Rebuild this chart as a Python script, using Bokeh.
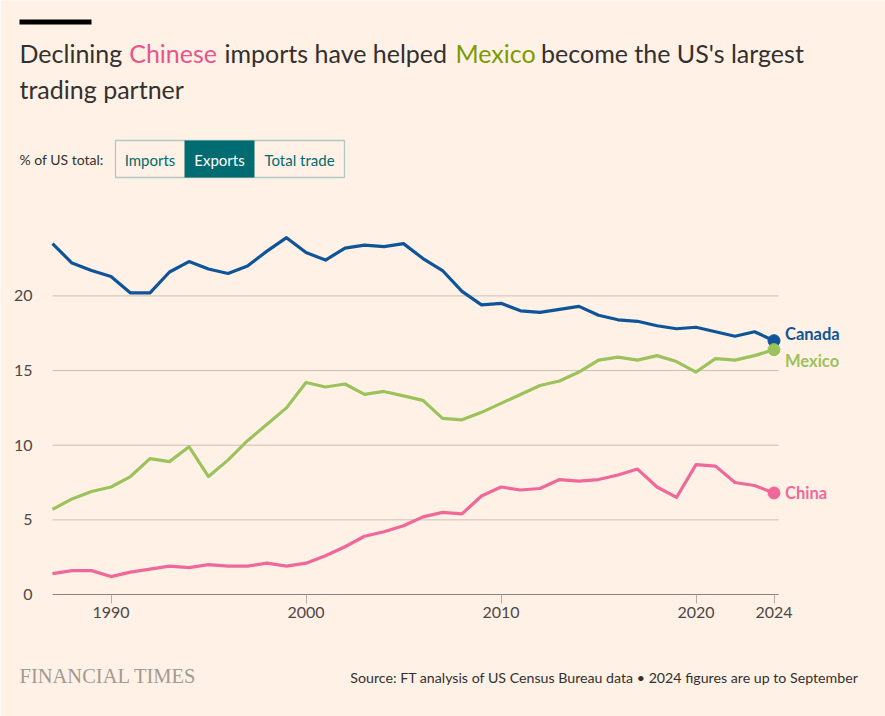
from bokeh.plotting import figure
from bokeh.models import Label, BoxAnnotation, FixedTicker, Range1d
from bokeh.embed import file_html
from bokeh.resources import INLINE

# ---------------- data ----------------
years = list(range(1987, 2025))
canada = [23.5, 22.2, 21.7, 21.3, 20.2, 20.2, 21.6, 22.3, 21.8, 21.5,
          22.0, 23.0, 23.9, 22.9, 22.4, 23.2, 23.4, 23.3, 23.5, 22.5,
          21.7, 20.3, 19.4, 19.5, 19.0, 18.9, 19.1, 19.3, 18.7, 18.4,
          18.3, 18.0, 17.8, 17.9, 17.6, 17.3, 17.6, 17.0]
mexico = [5.7, 6.4, 6.9, 7.2, 7.9, 9.1, 8.9, 9.9, 7.9, 9.0,
          10.3, 11.4, 12.5, 14.2, 13.9, 14.1, 13.4, 13.6, 13.3, 13.0,
          11.8, 11.7, 12.2, 12.8, 13.4, 14.0, 14.3, 14.9, 15.7, 15.9,
          15.7, 16.0, 15.6, 14.9, 15.8, 15.7, 16.0, 16.4]
china = [1.4, 1.6, 1.6, 1.2, 1.5, 1.7, 1.9, 1.8, 2.0, 1.9,
         1.9, 2.1, 1.9, 2.1, 2.6, 3.2, 3.9, 4.2, 4.6, 5.2,
         5.5, 5.4, 6.6, 7.2, 7.0, 7.1, 7.7, 7.6, 7.7, 8.0,
         8.4, 7.2, 6.5, 8.7, 8.6, 7.5, 7.3, 6.8]
x_ticks = [1990, 2000, 2010, 2020, 2024]
y_ticks = [0, 5, 10, 15, 20]
series_names = ["Canada", "Mexico", "China"]
title_parts = ["Declining", "Chinese", "imports have helped", "Mexico",
               "become the US's largest"]
title_line2 = "trading partner"
toggle_label = "% of US total:"
toggle_buttons = ["Imports", "Exports", "Total trade"]
brand = "FINANCIAL TIMES"
source = "Source: FT analysis of US Census Bureau data \u2022 2024 figures are up to September"

# ---------------- layout / style ----------------
W, H = 885, 716
PLOT_L = 52           # pixel column of first year
GRID_R = 778          # right end of gridlines / baseline
ZERO_Y = 594          # pixel row of y = 0
PX_PER_YEAR = 19.5
PX_PER_UNIT = 14.93
X0 = years[0] - PLOT_L / PX_PER_YEAR
X1 = X0 + W / PX_PER_YEAR
Y0 = -(H - ZERO_Y) / PX_PER_UNIT
Y1 = ZERO_Y / PX_PER_UNIT

BG = "#fff1e5"
TXT = "#33302e"
AX_TXT = "#4d4845"
GRID = "#cbbfb4"
BASE = "#8a827c"
C_CAN = "#0f5499"
C_MEX = "#9cc25b"
C_CHN = "#f0689a"
T_CHN = "#e8548b"
T_MEX = "#7d9a00"
TEAL = "#006b70"
FONT = "Lato"


def xd(px):
    return X0 + px / PX_PER_YEAR


def yd(py):
    return (ZERO_Y - py) / PX_PER_UNIT


p = figure(width=W, height=H, output_backend="svg", toolbar_location=None,
           x_range=Range1d(X0, X1), y_range=Range1d(Y0, Y1),
           min_border=0, min_border_left=0, min_border_right=0,
           min_border_top=0, min_border_bottom=0)
p.background_fill_color = BG
p.border_fill_color = BG
p.outline_line_color = None

# axes drawn inside the canvas at fixed positions
p.xaxis.fixed_location = 0
p.xaxis.ticker = FixedTicker(ticks=x_ticks)
p.xaxis.axis_line_color = None
p.xaxis.major_tick_line_color = "#b8aea5"
p.xaxis.major_tick_out = 9
p.xaxis.major_tick_in = 0
p.xaxis.minor_tick_line_color = None
p.xaxis.major_label_text_font = FONT
p.xaxis.major_label_text_font_size = "16px"
p.xaxis.major_label_text_color = AX_TXT
p.xaxis.major_label_standoff = 3

p.yaxis.fixed_location = years[0]
p.yaxis.ticker = FixedTicker(ticks=y_ticks)
p.yaxis.axis_line_color = None
p.yaxis.major_tick_line_color = None
p.yaxis.minor_tick_line_color = None
p.yaxis.major_label_text_font = FONT
p.yaxis.major_label_text_font_size = "16px"
p.yaxis.major_label_text_color = AX_TXT
p.yaxis.major_label_standoff = 14

p.xgrid.grid_line_color = None
p.ygrid.grid_line_color = None

x_grid_end = xd(GRID_R)
grid_y = [t for t in y_ticks if t != 0]
p.segment(x0=[years[0]] * len(grid_y), y0=grid_y, x1=[x_grid_end] * len(grid_y),
          y1=grid_y, line_color=GRID, line_width=1)
p.segment(x0=[years[0]], y0=[0], x1=[x_grid_end], y1=[0], line_color=BASE, line_width=1)

series = [canada, mexico, china]
colors = [C_CAN, C_MEX, C_CHN]
for vals, col in zip(series, colors):
    p.line(years, vals, line_color=col, line_width=3.2, line_join="round")
    p.scatter([years[-1]], [vals[-1]], size=12, fill_color=col, line_color=col)

label_offsets = [7, -11, 0]
for name, vals, col, off in zip(series_names, series, colors, label_offsets):
    p.add_layout(Label(x=years[-1], y=vals[-1], x_offset=11, y_offset=off,
                       text=name, text_color=col, text_font=FONT,
                       text_font_size="16.5px", text_font_style="bold",
                       text_baseline="middle", text_align="left"))

# ---------------- header ----------------
p.add_layout(BoxAnnotation(left=xd(19), right=xd(91), top=yd(19), bottom=yd(24),
                           fill_color="#000000", fill_alpha=1, line_color=None))
title_x = [19, 128.7, 224, 455, 540.6]
title_c = [TXT, T_CHN, TXT, T_MEX, TXT]
for txt, x, c in zip(title_parts, title_x, title_c):
    p.add_layout(Label(x=xd(x), y=yd(52), text=txt, text_color=c, text_font=FONT,
                       text_font_size="25px", text_baseline="middle",
                       text_align="left"))
p.add_layout(Label(x=xd(19), y=yd(88), text=title_line2, text_color=TXT,
                   text_font=FONT, text_font_size="25px",
                   text_baseline="middle", text_align="left"))
p.add_layout(Label(x=xd(19), y=yd(159), text=toggle_label, text_color=TXT,
                   text_font=FONT, text_font_size="14px",
                   text_baseline="middle", text_align="left"))
p.add_layout(BoxAnnotation(left=xd(184), right=xd(254), top=yd(140), bottom=yd(177),
                           fill_color=TEAL, fill_alpha=1, line_color=None))
p.add_layout(BoxAnnotation(left=xd(115), right=xd(344), top=yd(140), bottom=yd(177),
                           fill_alpha=0, line_color=TEAL, line_width=1.3))
btn_x = [149.5, 219, 299]
btn_c = [TEAL, "#ffffff", TEAL]
for txt, x, c in zip(toggle_buttons, btn_x, btn_c):
    p.add_layout(Label(x=xd(x), y=yd(159), text=txt, text_color=c, text_font=FONT,
                       text_font_size="15px", text_baseline="middle",
                       text_align="center"))

# ---------------- footer ----------------
p.add_layout(Label(x=xd(19), y=yd(675), text=brand, text_color="#a39a91",
                   text_font="Liberation Serif", text_font_size="20.5px",
                   text_baseline="middle", text_align="left"))
p.add_layout(Label(x=xd(858), y=yd(677), text=source, text_color=TXT,
                   text_font=FONT, text_font_size="14.2px",
                   text_baseline="middle", text_align="right"))

open("out.html", "w").write(file_html(p, INLINE))
